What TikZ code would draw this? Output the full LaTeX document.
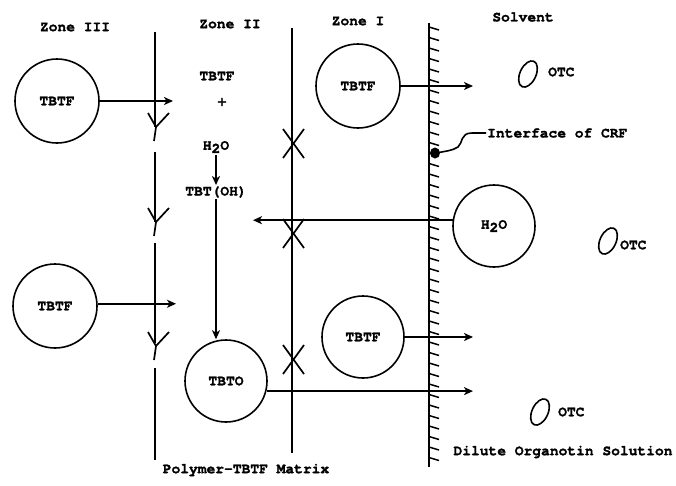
\documentclass[tikz,border=0pt]{standalone}
\usepackage{fontspec}
\setmainfont{TeX Gyre Cursor}[BoldFeatures={FakeBold=1.5}]
\usetikzlibrary{arrows.meta,calc}
\begin{document}
\begin{tikzpicture}[x=1pt,y=-1pt,
  every node/.style={font=\fontsize{14.6}{16}\selectfont\bfseries, inner sep=1pt},
  ball/.style={draw, circle, line width=1.6pt, minimum size=84pt, inner sep=0pt},
  arr/.style={line width=1.6pt, -{Stealth[length=9pt,width=8pt,inset=2.5pt]}},
  bound/.style={line width=1.8pt},
  zmark/.style={line width=1.7pt},
  otcell/.style={line width=1.6pt}
]
\useasboundingbox (0,0) rectangle (676,485);

% labels
\node (zIII) at (75,27) {Zone III};
\node (zII) at (230,24) {Zone II};
\node (zI) at (358,21) {Zone I};
\node (solv) at (523,17) {Solvent};
\node (matrix) at (246,470) {Polymer-TBTF Matrix};
\node (dilute) at (563,452) {Dilute Organotin Solution};

% zone boundaries
\draw[bound] (155,32) -- (155,127);
\draw[bound] (155,152) -- (155,222);
\draw[bound] (155,243) -- (155,343);
\draw[bound] (155,368) -- (155,460);
\draw[bound] (292,28) -- (292,453);

% Y marks
\foreach \yy in {113,208,332}{
  \draw[zmark] (148,\yy) -- (156,\yy+14) -- (169,\yy);
  \draw[zmark] (156,\yy+14) -- (154,\yy+28);
}
% X marks
\foreach \yy in {144,234,360}{
  \draw[zmark] (283,\yy-15) -- (304,\yy+14);
  \draw[zmark] (304,\yy-15) -- (283,\yy+14);
}

% interface
\draw[bound] (429,23) -- (429,467);
\foreach \yy in {27,37.5,...,466}{
  \draw[line width=1.5pt] (429,\yy) -- (439,\yy+3);
}

% circles
\node[ball] (t3a) at (57,101) {TBTF};
\node[ball] (t3b) at (55,306) {TBTF};
\node[ball, minimum size=82pt] (tbto) at (226,381) {TBTO};
\node[ball] (t1a) at (358,86) {TBTF};
\node[ball, minimum size=82pt] (h2o) at (494,226) {H\raisebox{-0.5ex}{2}O};
\node[ball, minimum size=82pt] (t1b) at (363,337) {TBTF};

% zone II reaction
\node (rtbtf) at (217,76) {TBTF};
\node (plus) at (222,102) {+};
\node (rh2o) at (216,147) {H\raisebox{-0.5ex}{2}O};
\node (tbtoh) at (216,192) {TBT(OH)};
\draw[arr] (rh2o.south) ++(0,1) -- (tbtoh.north);
\draw[arr] (tbtoh.south) -- (tbtoh.south |- tbto.north);

% flux arrows
\coordinate (e1) at (173,102);
\coordinate (e2) at (176,309);
\coordinate (e3) at (473,84);
\coordinate (e4) at (473,339);
\coordinate (e5) at (473,392);
\coordinate (e6) at (253,220);
\draw[arr] (t3a.east) -- (t3a.east -| e1);
\draw[arr] (t3b.3) -- (t3b.3 -| e2);
\draw[arr] (t1a.east) -- (t1a.east -| e3);
\draw[arr] (t1b.east) -- (t1b.east -| e4);
\draw[arr] (tbto.-14) -- (tbto.-14 -| e5);
\draw[arr] (h2o.172) -- (h2o.172 -| e6);

% OTC
\draw[otcell] (528,74) ellipse [x radius=8, y radius=14, rotate=-25];
\node[anchor=west] (otc1) at (547,72) {OTC};
\draw[otcell] (608,241) ellipse [x radius=8, y radius=14, rotate=-25];
\node[anchor=west] (otc2) at (619,245) {OTC};
\draw[otcell] (540,412) ellipse [x radius=8, y radius=14, rotate=-25];
\node[anchor=west] (otc3) at (557,412) {OTC};

% interface label
\node[anchor=west] (intf) at (486,133) {Interface of CRF};
\draw[line width=1.6pt] (intf.west) -- (472,133) .. controls (460,133) and (463,143) .. (458,147) .. controls (452,151) and (445,151) .. (437,153);
\fill (435,153) ellipse [x radius=5, y radius=5.5];
\end{tikzpicture}
\end{document}
